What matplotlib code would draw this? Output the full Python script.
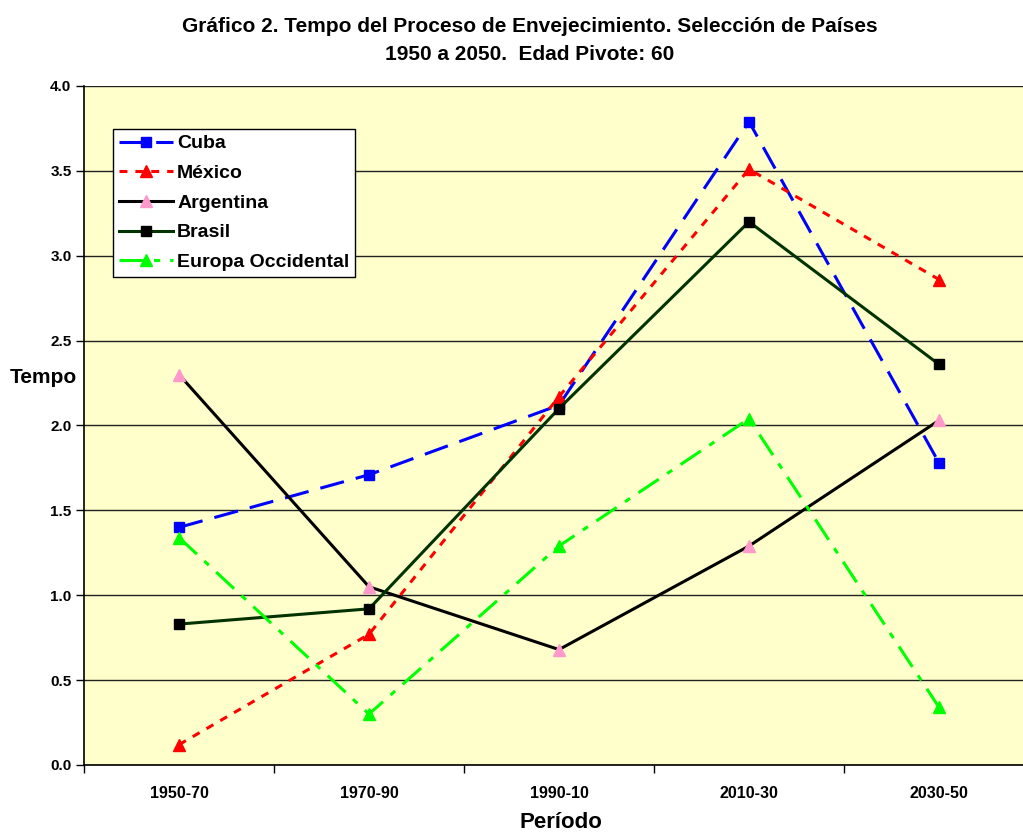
import matplotlib
import matplotlib.pyplot as plt
from matplotlib.ticker import FixedLocator, NullFormatter

matplotlib.use("Agg")

periods = ["1950-70", "1970-90", "1990-10", "2010-30", "2030-50"]
cuba = [1.40, 1.71, 2.12, 3.79, 1.78]
mexico = [0.12, 0.77, 2.17, 3.51, 2.86]
argentina = [2.30, 1.05, 0.68, 1.29, 2.03]
brasil = [0.83, 0.92, 2.10, 3.20, 2.36]
europa = [1.34, 0.30, 1.29, 2.04, 0.34]

_BG = "#FFFFCC"
_FONT = ["Liberation Sans", "DejaVu Sans"]

plt.rcParams["font.family"] = _FONT
plt.rcParams["font.weight"] = "bold"

fig = plt.figure(figsize=(10.23, 8.34), dpi=100)
ax = fig.add_axes([84 / 1023, 69 / 834, 1 - 84 / 1023, 679 / 834])
ax.set_facecolor(_BG)

x = list(range(len(periods)))
lw = 2.2
ax.plot(x, cuba, color="#0000FF", lw=lw, dashes=(8, 4), marker="s", ms=7.5,
        mfc="#0000FF", mec="#0000FF", label="Cuba", zorder=3)
ax.plot(x, mexico, color="#FF0000", lw=lw, dashes=(2.6, 2.6), marker="^", ms=8,
        mfc="#FF0000", mec="#FF0000", label="México", zorder=3)
ax.plot(x, argentina, color="#000000", lw=lw, marker="^", ms=8,
        mfc="#FF99CC", mec="#FF99CC", label="Argentina", zorder=3)
ax.plot(x, brasil, color="#003300", lw=lw, marker="s", ms=7.5,
        mfc="#000000", mec="#000000", label="Brasil", zorder=3)
ax.plot(x, europa, color="#00FF00", lw=lw, dashes=(8, 3.3, 2, 3.3), marker="^", ms=8,
        mfc="#00FF00", mec="#00FF00", label="Europa Occidental", zorder=3)

ax.set_ylim(0, 4.0)
ax.set_xlim(-0.5, (1023 - 179) / 190)
ax.set_yticks([i * 0.5 for i in range(9)])
ax.set_yticklabels([f"{i * 0.5:.1f}" for i in range(9)], fontsize=11, fontweight="bold")
ax.yaxis.grid(True, color="#222222", lw=1.0)
ax.set_axisbelow(True)

# tick marks sit on the category boundaries, labels in the middle
ax.xaxis.set_major_locator(FixedLocator([i - 0.5 for i in range(6)]))
ax.xaxis.set_major_formatter(NullFormatter())
ax.xaxis.set_minor_locator(FixedLocator(x))
ax.set_xticklabels(periods, minor=True, fontsize=11.5, fontweight="bold")
ax.tick_params(axis="x", which="major", direction="out", length=6, width=1)
ax.tick_params(axis="x", which="minor", length=0, pad=15)
ax.tick_params(axis="y", direction="out", length=6, width=1, pad=3)

ax.spines["top"].set_visible(False)
ax.spines["right"].set_visible(False)
ax.spines["left"].set_linewidth(1.2)
ax.spines["bottom"].set_linewidth(1.2)

fig.text(561 / 1023, 1 - 822 / 834, "Período", fontsize=16, fontweight="bold",
         ha="center", va="center")
fig.text(10 / 1023, 1 - 377 / 834, "Tempo", fontsize=15, fontweight="bold",
         ha="left", va="center")

fig.text(530 / 1023, 1 - 27 / 834,
         "Gráfico 2. Tempo del Proceso de Envejecimiento. Selección de Países",
         fontsize=15, fontweight="bold", ha="center", va="center")
fig.text(530 / 1023, 1 - 55 / 834, "1950 a 2050.  Edad Pivote: 60",
         fontsize=15, fontweight="bold", ha="center", va="center")

leg = ax.legend(loc="upper left", bbox_to_anchor=(29 / 939, 1 - 43 / 679),
                fontsize=14, frameon=True, fancybox=False, handlelength=2.8,
                handletextpad=0.2, borderpad=0.3, labelspacing=0.62, borderaxespad=0)
leg.get_frame().set_edgecolor("black")
leg.get_frame().set_linewidth(1.0)
leg.get_frame().set_alpha(1.0)
for t in leg.get_texts():
    t.set_fontweight("bold")

fig.savefig("out.png", dpi=100, facecolor="white")
